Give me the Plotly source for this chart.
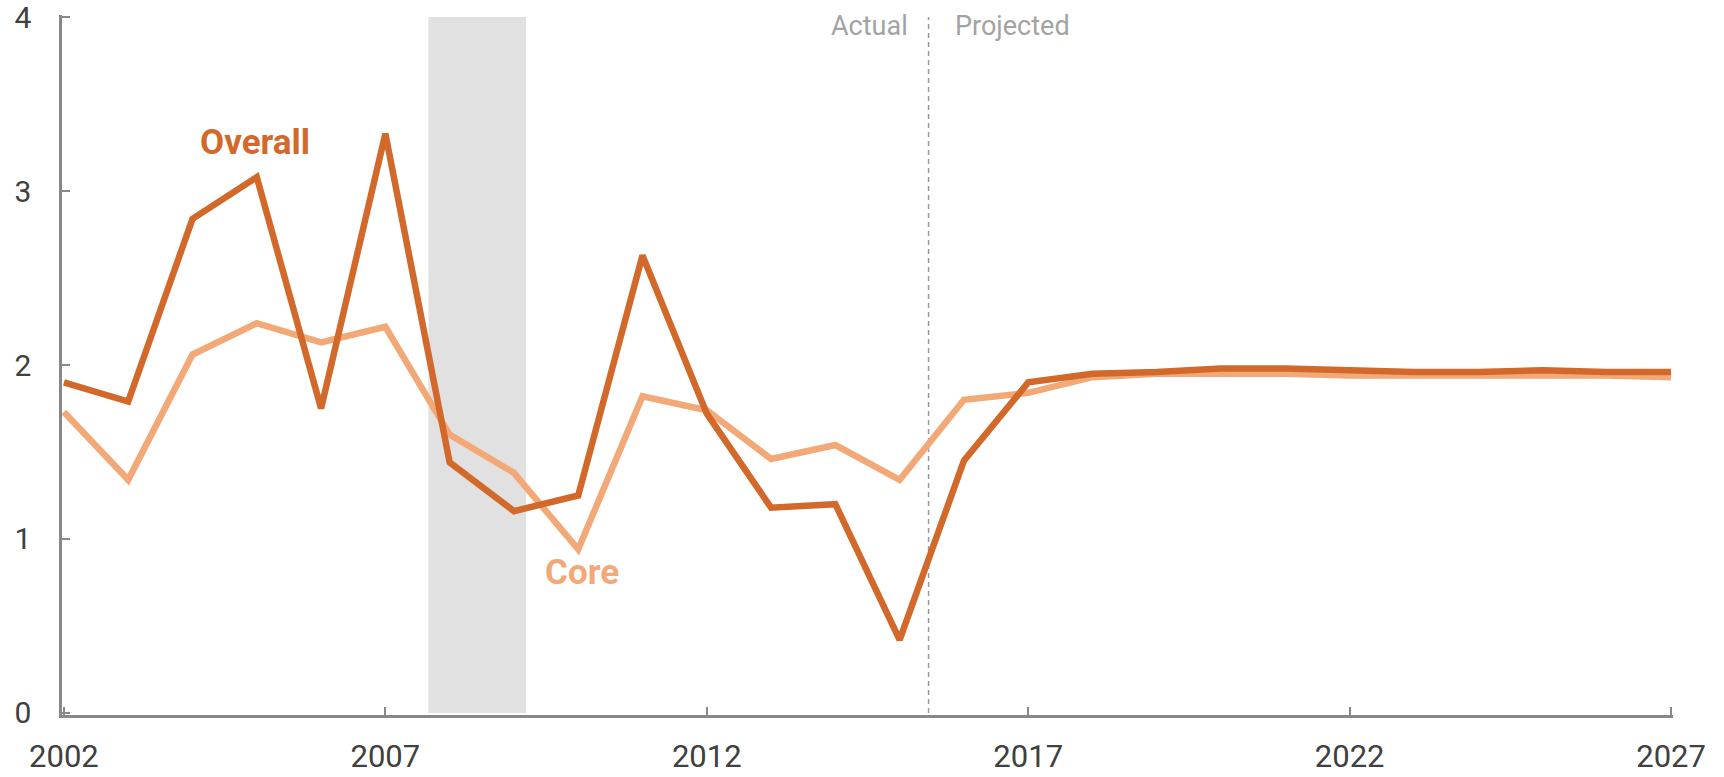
import plotly.graph_objects as go

years = list(range(2002, 2028))
overall = [1.90, 1.79, 2.84, 3.08, 1.75, 3.33, 1.44, 1.16, 1.25, 2.63, 1.72, 1.18, 1.20,
           0.42, 1.45, 1.90, 1.95, 1.96, 1.98, 1.98, 1.97, 1.96, 1.96, 1.97, 1.96, 1.96]
core = [1.73, 1.34, 2.06, 2.24, 2.13, 2.22, 1.60, 1.38, 0.94, 1.82, 1.74, 1.46, 1.54,
        1.34, 1.80, 1.84, 1.93, 1.95, 1.95, 1.95, 1.94, 1.94, 1.94, 1.94, 1.94, 1.93]
x_ticks = [2002, 2007, 2012, 2017, 2022, 2027]
y_ticks = [0, 1, 2, 3, 4]
recession = [2007.67, 2009.19]
split_year = 2015.45

OVERALL_C = "#D2692A"
CORE_C = "#F3A977"
FONT = "Roboto, sans-serif"

fig = go.Figure()
fig.add_trace(go.Scatter(x=years, y=core, mode="lines", name="Core",
                         line=dict(color=CORE_C, width=6.5), hoverinfo="skip"))
fig.add_trace(go.Scatter(x=years, y=overall, mode="lines", name="Overall",
                         line=dict(color=OVERALL_C, width=6.5), hoverinfo="skip"))

fig.add_shape(type="rect", x0=recession[0], x1=recession[1], y0=0, y1=4,
              xref="x", yref="y", fillcolor="#E1E1E1", line=dict(width=0), layer="below")
fig.add_shape(type="line", x0=split_year, x1=split_year, y0=0, y1=4, xref="x", yref="y",
              line=dict(color="#9A9A9A", width=1.5, dash="5px,4px"), layer="below")

fig.add_annotation(x=split_year, y=3.95, text="Actual", showarrow=False, xanchor="right",
                   yanchor="middle", xshift=-19, font=dict(family=FONT, size=27, color="#A3A3A3"))
fig.add_annotation(x=split_year, y=3.95, text="Projected", showarrow=False, xanchor="left",
                   yanchor="middle", xshift=24, font=dict(family=FONT, size=27, color="#A3A3A3"))
fig.add_annotation(x=2004.97, y=3.28, text="<b>Overall</b>", showarrow=False,
                   font=dict(family=FONT, size=35, color=OVERALL_C))
fig.add_annotation(x=2010.06, y=0.81, text="<b>Core</b>", showarrow=False,
                   font=dict(family=FONT, size=35, color=CORE_C))

fig.update_layout(
    width=1724, height=777,
    margin=dict(l=62, r=51, t=15, b=62, autoexpand=False),
    paper_bgcolor="white", plot_bgcolor="white",
    showlegend=False,
    font=dict(family=FONT, size=32, color="#404040"),
)
fig.update_xaxes(range=[2001.97, 2027.03], tickvals=x_ticks, ticktext=[str(v) for v in x_ticks],
                 ticks="inside", ticklen=8, tickcolor="#888888", tickwidth=1.5,
                 showline=True, linecolor="#888888", linewidth=2.5, automargin=False,
                 showgrid=False, zeroline=False, ticklabelstandoff=12,
                 ticklabeloverflow="allow",
                 tickfont=dict(family=FONT, size=31, color="#404040"))
fig.update_yaxes(range=[-0.012, 4.012], tickvals=y_ticks, ticktext=[str(v) for v in y_ticks],
                 ticks="inside", ticklen=8, tickcolor="#888888", tickwidth=1.5,
                 showline=True, linecolor="#888888", linewidth=2.5, automargin=False,
                 showgrid=False, zeroline=False, ticklabelstandoff=22,
                 ticklabeloverflow="allow",
                 tickfont=dict(family=FONT, size=30, color="#404040"))

fig.write_html("out.html", config={"displayModeBar": False},
               post_script="document.body.style.margin='0';document.body.style.overflow='hidden';")
